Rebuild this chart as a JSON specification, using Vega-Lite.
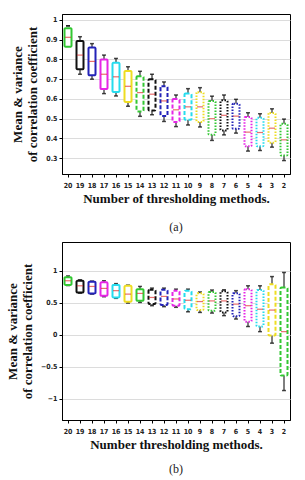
{
  "$schema": "https://vega.github.io/schema/vega-lite/v6.json",
  "padding": {"left": 6, "top": 13, "right": 5, "bottom": 3},
  "background": "white",
  "datasets": {
    "a": [
      {"n": 20, "lo": 0.97, "q1": 0.864, "med": 0.912, "q3": 0.958, "hi": 0.97, "c": "g", "s": "solid"},
      {"n": 19, "lo": 0.725, "q1": 0.75, "med": 0.822, "q3": 0.893, "hi": 0.915, "c": "k", "s": "solid"},
      {"n": 18, "lo": 0.70, "q1": 0.72, "med": 0.79, "q3": 0.86, "hi": 0.88, "c": "b", "s": "solid"},
      {"n": 17, "lo": 0.627, "q1": 0.65, "med": 0.725, "q3": 0.80, "hi": 0.822, "c": "m", "s": "solid"},
      {"n": 16, "lo": 0.615, "q1": 0.635, "med": 0.712, "q3": 0.783, "hi": 0.805, "c": "c", "s": "solid"},
      {"n": 15, "lo": 0.563, "q1": 0.585, "med": 0.664, "q3": 0.742, "hi": 0.763, "c": "y", "s": "solid"},
      {"n": 14, "lo": 0.512, "q1": 0.537, "med": 0.632, "q3": 0.715, "hi": 0.74, "c": "g", "s": "dashed"},
      {"n": 13, "lo": 0.52, "q1": 0.542, "med": 0.624, "q3": 0.70, "hi": 0.725, "c": "k", "s": "dashed"},
      {"n": 12, "lo": 0.486, "q1": 0.513, "med": 0.59, "q3": 0.664, "hi": 0.686, "c": "b", "s": "dashed"},
      {"n": 11, "lo": 0.46, "q1": 0.483, "med": 0.545, "q3": 0.60, "hi": 0.62, "c": "m", "s": "dashed"},
      {"n": 10, "lo": 0.468, "q1": 0.495, "med": 0.56, "q3": 0.627, "hi": 0.652, "c": "c", "s": "dashed"},
      {"n": 9, "lo": 0.458, "q1": 0.483, "med": 0.56, "q3": 0.634, "hi": 0.657, "c": "y", "s": "dotted"},
      {"n": 8, "lo": 0.39, "q1": 0.419, "med": 0.50, "q3": 0.59, "hi": 0.614, "c": "g", "s": "dotted"},
      {"n": 7, "lo": 0.418, "q1": 0.44, "med": 0.517, "q3": 0.593, "hi": 0.62, "c": "k", "s": "dotted"},
      {"n": 6, "lo": 0.427, "q1": 0.449, "med": 0.513, "q3": 0.576, "hi": 0.598, "c": "b", "s": "dotted"},
      {"n": 5, "lo": 0.336, "q1": 0.36, "med": 0.432, "q3": 0.508, "hi": 0.53, "c": "m", "s": "dotted"},
      {"n": 4, "lo": 0.339, "q1": 0.36, "med": 0.43, "q3": 0.505, "hi": 0.525, "c": "c", "s": "dotted"},
      {"n": 3, "lo": 0.356, "q1": 0.378, "med": 0.452, "q3": 0.529, "hi": 0.55, "c": "y", "s": "dotted"},
      {"n": 2, "lo": 0.288, "q1": 0.314, "med": 0.393, "q3": 0.474, "hi": 0.498, "c": "g", "s": "dotted"}
    ],
    "b": [
      {"n": 20, "lo": 0.77, "q1": 0.78, "med": 0.845, "q3": 0.90, "hi": 0.92, "c": "g", "s": "solid"},
      {"n": 19, "lo": 0.65, "q1": 0.66, "med": 0.766, "q3": 0.845, "hi": 0.86, "c": "k", "s": "solid"},
      {"n": 18, "lo": 0.636, "q1": 0.647, "med": 0.756, "q3": 0.83, "hi": 0.84, "c": "b", "s": "solid"},
      {"n": 17, "lo": 0.595, "q1": 0.61, "med": 0.725, "q3": 0.82, "hi": 0.845, "c": "m", "s": "solid"},
      {"n": 16, "lo": 0.57, "q1": 0.585, "med": 0.69, "q3": 0.78, "hi": 0.80, "c": "c", "s": "solid"},
      {"n": 15, "lo": 0.496, "q1": 0.517, "med": 0.636, "q3": 0.766, "hi": 0.777, "c": "y", "s": "solid"},
      {"n": 14, "lo": 0.506, "q1": 0.532, "med": 0.647, "q3": 0.714, "hi": 0.756, "c": "g", "s": "solid"},
      {"n": 13, "lo": 0.455, "q1": 0.48, "med": 0.584, "q3": 0.704, "hi": 0.73, "c": "k", "s": "dashed"},
      {"n": 12, "lo": 0.44, "q1": 0.465, "med": 0.60, "q3": 0.704, "hi": 0.73, "c": "b", "s": "dashed"},
      {"n": 11, "lo": 0.43, "q1": 0.455, "med": 0.56, "q3": 0.69, "hi": 0.714, "c": "m", "s": "dashed"},
      {"n": 10, "lo": 0.36, "q1": 0.40, "med": 0.54, "q3": 0.69, "hi": 0.714, "c": "c", "s": "dashed"},
      {"n": 9, "lo": 0.35, "q1": 0.387, "med": 0.52, "q3": 0.65, "hi": 0.67, "c": "y", "s": "dotted"},
      {"n": 8, "lo": 0.34, "q1": 0.377, "med": 0.53, "q3": 0.67, "hi": 0.70, "c": "g", "s": "dotted"},
      {"n": 7, "lo": 0.30, "q1": 0.35, "med": 0.53, "q3": 0.68, "hi": 0.704, "c": "k", "s": "dotted"},
      {"n": 6, "lo": 0.247, "q1": 0.29, "med": 0.48, "q3": 0.65, "hi": 0.69, "c": "b", "s": "dotted"},
      {"n": 5, "lo": 0.13, "q1": 0.205, "med": 0.455, "q3": 0.714, "hi": 0.766, "c": "m", "s": "dotted"},
      {"n": 4, "lo": 0.05, "q1": 0.13, "med": 0.40, "q3": 0.70, "hi": 0.766, "c": "c", "s": "dotted"},
      {"n": 3, "lo": -0.13, "q1": -0.01, "med": 0.387, "q3": 0.79, "hi": 0.91, "c": "y", "s": "dashed"},
      {"n": 2, "lo": -0.87, "q1": -0.636, "med": 0.05, "q3": 0.74, "hi": 0.974, "c": "g", "s": "dashed"}
    ]
  },
  "config": {
    "view": {"stroke": "black", "strokeWidth": 1},
    "axis": {
      "labelFont": "DejaVu Sans Condensed",
      "labelFontWeight": "bold",
      "labelFontSize": 7,
      "labelColor": "#222",
      "titleFont": "Liberation Serif",
      "titleFontWeight": "bold",
      "titleFontSize": 13,
      "titleColor": "#111",
      "gridColor": "#dcdcdc",
      "domainColor": "black",
      "tickColor": "black",
      "tickSize": 3
    },
    "title": {"font": "Liberation Serif", "fontSize": 12, "fontWeight": "normal", "color": "#222"}
  },
  "spacing": 7,
  "vconcat": [
    {
      "width": 228,
      "height": 160,
      "title": {"text": "(a)", "orient": "bottom", "offset": 17},
      "data": {"name": "a"},
      "encoding": {
        "x": {"field": "n", "type": "ordinal", "sort": "descending",
              "axis": {"title": "Number of thresholding methods.", "labelAngle": 0, "titlePadding": 4, "labelPadding": 4, "labelOverlap": false}},
        "y": {"field": "lo", "type": "quantitative",
              "scale": {"domain": [0.22, 1.03], "nice": false},
              "axis": {"title": ["Mean & variance", "of correlation coefficient"], "values": [0.3, 0.4, 0.5, 0.6, 0.7, 0.8, 0.9, 1], "format": "~g", "labelOverlap": false, "titlePadding": 6, "titleLineHeight": 15}}
      },
      "layer": [
        {"mark": {"type": "rule", "color": "black", "strokeWidth": 1},
         "encoding": {"y2": {"field": "hi"}}},
        {"mark": {"type": "tick", "color": "black", "size": 4, "thickness": 1.5}},
        {"mark": {"type": "tick", "color": "black", "size": 4, "thickness": 1.5}, "encoding": {"y": {"field": "hi", "type": "quantitative"}}},
        {"mark": {"type": "bar", "fill": "white", "strokeWidth": 2, "size": 7, "cornerRadius": 1},
         "encoding": {
           "y": {"field": "q1", "type": "quantitative"},
           "y2": {"field": "q3"},
           "stroke": {"field": "c", "type": "nominal", "legend": null,
              "scale": {"domain": ["g", "k", "b", "m", "c", "y"], "range": ["#33c733", "#111111", "#2323b8", "#e626e6", "#26dcee", "#eedd22"]}},
           "strokeDash": {"field": "s", "type": "nominal", "legend": null,
              "scale": {"domain": ["solid", "dashed", "dotted"], "range": [[1, 0], [4, 2], [1.5, 1.5]]}}
         }},
        {"mark": {"type": "tick", "color": "#e03030", "size": 6, "thickness": 1.2}, "encoding": {"y": {"field": "med", "type": "quantitative"}}}
      ]
    },
    {
      "width": 228,
      "height": 178,
      "title": {"text": "(b)", "orient": "bottom", "offset": 13},
      "data": {"name": "b"},
      "encoding": {
        "x": {"field": "n", "type": "ordinal", "sort": "descending",
              "axis": {"title": "Number thresholding methods.", "labelAngle": 0, "titlePadding": 4, "labelPadding": 4, "labelOverlap": false}},
        "y": {"field": "lo", "type": "quantitative",
              "scale": {"domain": [-1.33, 1.45], "nice": false},
              "axis": {"title": ["Mean & variance", "of correlation coefficient"], "values": [-1, -0.5, 0, 0.5, 1], "format": "~g", "labelOverlap": false, "titlePadding": 6, "titleLineHeight": 15}}
      },
      "layer": [
        {"mark": {"type": "rule", "color": "black", "strokeWidth": 1},
         "encoding": {"y2": {"field": "hi"}}},
        {"mark": {"type": "tick", "color": "black", "size": 4, "thickness": 1.5}},
        {"mark": {"type": "tick", "color": "black", "size": 4, "thickness": 1.5}, "encoding": {"y": {"field": "hi", "type": "quantitative"}}},
        {"mark": {"type": "bar", "fill": "white", "strokeWidth": 2, "size": 7, "cornerRadius": 1},
         "encoding": {
           "y": {"field": "q1", "type": "quantitative"},
           "y2": {"field": "q3"},
           "stroke": {"field": "c", "type": "nominal", "legend": null,
              "scale": {"domain": ["g", "k", "b", "m", "c", "y"], "range": ["#33c733", "#111111", "#2323b8", "#e626e6", "#26dcee", "#eedd22"]}},
           "strokeDash": {"field": "s", "type": "nominal", "legend": null,
              "scale": {"domain": ["solid", "dashed", "dotted"], "range": [[1, 0], [4, 2], [1.5, 1.5]]}}
         }},
        {"mark": {"type": "tick", "color": "#e03030", "size": 6, "thickness": 1.2}, "encoding": {"y": {"field": "med", "type": "quantitative"}}}
      ]
    }
  ]
}
